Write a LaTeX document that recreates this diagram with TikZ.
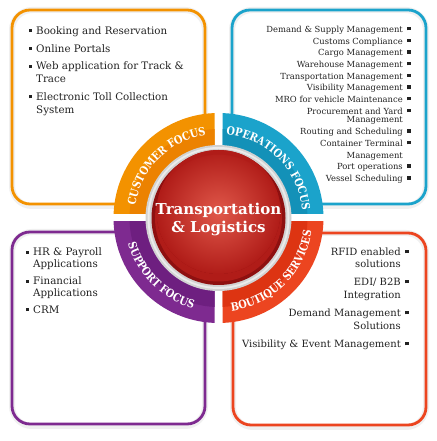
\documentclass[tikz,border=0pt]{standalone}
\usepackage{fontspec}
\setmainfont{DejaVu Serif}
\newfontfamily\bandfnt[FakeStretch=0.86]{DejaVu Serif}
\usetikzlibrary{decorations.text,calc}
\definecolor{cOr}{HTML}{F39200}
\definecolor{cOrD}{HTML}{EC8200}
\definecolor{cBl}{HTML}{1BA3CB}
\definecolor{cBlD}{HTML}{1391B8}
\definecolor{cPu}{HTML}{7E2A90}
\definecolor{cPuD}{HTML}{6E1F80}
\definecolor{cRe}{HTML}{EC4520}
\definecolor{cReD}{HTML}{DD3412}
\definecolor{cTxt}{HTML}{222222}
\definecolor{cRim}{HTML}{8E1010}
\definecolor{cBallIn}{HTML}{E0584A}
\definecolor{cBallOut}{HTML}{B01C18}
\definecolor{cRing}{HTML}{D2D2D2}
\newcommand{\bul}{\rule[2.2pt]{3.2pt}{3.2pt}}
\begin{document}
\begin{tikzpicture}[x=1pt,y=1pt,
  boxframe/.style={line width=2.8pt, rounded corners=18pt},
  shadowframe/.style={line width=6pt, rounded corners=20pt, draw=black!6},
  itemL/.style={anchor=base west, inner sep=0pt, text=cTxt, font=\fontsize{10.3}{12}\selectfont},
  itemR/.style={anchor=base east, inner sep=0pt, text=cTxt, font=\fontsize{10}{12}\selectfont},
  itemS/.style={anchor=base east, inner sep=0pt, text=cTxt, font=\fontsize{8.4}{10}\selectfont},
  bandtext/.style={decorate, decoration={text along path, text align=center, text color=white,
     text={|\bandfnt\bfseries\fontsize{11.3}{12}\selectfont|#1}}},
  ctext/.style={inner sep=0pt, text=white, font=\fontsize{15}{17}\selectfont\bfseries}
]
\useasboundingbox (0,0) rectangle (436,441);
\fill[white] (0,0) rectangle (436,441);
\coordinate (C) at (218.5,223);
% soft shadows
\draw[shadowframe] (12,235) rectangle (205,431);
\draw[shadowframe] (232,235) rectangle (426,431);
\draw[shadowframe] (12,15) rectangle (205,209);
\draw[shadowframe] (233,14) rectangle (426,208);
% boxes
\draw[boxframe, draw=cOr] (12,237) rectangle (205,431);
\draw[boxframe, draw=cBl] (232,237) rectangle (426,431);
\draw[boxframe, draw=cPu] (12,17) rectangle (205,209);
\draw[boxframe, draw=cRe] (233,16) rectangle (426,208);
% bands
\begin{scope}
\clip (214.5,227) rectangle (100,340);
\fill[cOr] (C) circle (105);
\fill[cOrD] (C) circle (89);
\end{scope}
\begin{scope}
\clip (222.5,227) rectangle (340,340);
\fill[cBl] (C) circle (105);
\fill[cBlD] (C) circle (89);
\end{scope}
\begin{scope}
\clip (214.5,219) rectangle (100,100);
\fill[cPu] (C) circle (105);
\fill[cPuD] (C) circle (89);
\end{scope}
\begin{scope}
\clip (222.5,219) rectangle (340,100);
\fill[cRe] (C) circle (105);
\fill[cReD] (C) circle (89);
\end{scope}
% gray ring and ball
\fill[cRing] (C) circle (73);
\fill[black!8] (C) circle (71);
\fill[cRing] (C) circle (69);
\fill[cRim] (C) circle (67);
\shade[inner color=cBallIn, outer color=cBallOut] ($(C)+(0,6)$) circle (62);
\fill[cBallOut, even odd rule] (C) circle (63.5) ($(C)+(0,6)$) circle (62);
% band labels
\path[bandtext={CUSTOMER FOCUS}] ($(C)+(178:84)$) arc[start angle=178, end angle=92, radius=84];
\path[bandtext={OPERATIONS FOCUS}] ($(C)+(88:84)$) arc[start angle=88, end angle=2, radius=84];
\path[bandtext={SUPPORT FOCUS}] ($(C)+(182:94)$) arc[start angle=182, end angle=268, radius=94];
\path[bandtext={BOUTIQUE SERVICES}] ($(C)+(272:94)$) arc[start angle=272, end angle=358, radius=94];
% centre text
\node[ctext] (t1) at (218.5,231) {Transportation};
\node[ctext] (t2) at (218.5,213) {\& Logistics};
% customer focus items
\node[itemL] (o1) at (36,406.7) {\llap{\bul\hspace{4.5pt}}Booking and Reservation};
\node[itemL] (o2) at (36,388.7) {\llap{\bul\hspace{4.5pt}}Online Portals};
\node[itemL] (o3) at (36,371) {\llap{\bul\hspace{4.5pt}}Web application for Track \&};
\node[itemL] (o3b) at (36,358.3) {Trace};
\node[itemL] (o4) at (36,340.3) {\llap{\bul\hspace{4.5pt}}Electronic Toll Collection};
\node[itemL] (o4b) at (36,327.7) {System};
% operations focus items
\node[itemS] (b1) at (403,408.5) {Demand \& Supply Management\rlap{\hspace{4.5pt}\bul}};
\node[itemS] (b2) at (403,396.8) {Customs Compliance\rlap{\hspace{4.5pt}\bul}};
\node[itemS] (b3) at (403,385.2) {Cargo Management\rlap{\hspace{4.5pt}\bul}};
\node[itemS] (b4) at (403,373.5) {Warehouse Management\rlap{\hspace{4.5pt}\bul}};
\node[itemS] (b5) at (403,361.8) {Transportation Management\rlap{\hspace{4.5pt}\bul}};
\node[itemS] (b6) at (403,350.2) {Visibility Management\rlap{\hspace{4.5pt}\bul}};
\node[itemS] (b7) at (403,338.5) {MRO for vehicle Maintenance\rlap{\hspace{4.5pt}\bul}};
\node[itemS] (b8) at (403,326.7) {Procurement and Yard\rlap{\hspace{4.5pt}\bul}};
\node[itemS] (b8b) at (403,318.7) {Management};
\node[itemS] (b9) at (403,306.2) {Routing and Scheduling\rlap{\hspace{4.5pt}\bul}};
\node[itemS] (b10) at (403,294.5) {Container Terminal\rlap{\hspace{4.5pt}\bul}};
\node[itemS] (b10b) at (403,282.8) {Management};
\node[itemS] (b11) at (403,271.2) {Port operations\rlap{\hspace{4.5pt}\bul}};
\node[itemS] (b12) at (403,259.2) {Vessel Scheduling\rlap{\hspace{4.5pt}\bul}};
% support focus items
\node[itemL] (p1) at (33,185) {\llap{\bul\hspace{4.5pt}}HR \& Payroll};
\node[itemL] (p1b) at (33,173.3) {Applications};
\node[itemL] (p2) at (33,156) {\llap{\bul\hspace{4.5pt}}Financial};
\node[itemL] (p2b) at (33,144.3) {Applications};
\node[itemL] (p3) at (33,127.7) {\llap{\bul\hspace{4.5pt}}CRM};
% boutique services items
\node[itemR] (r1) at (401,185.3) {RFID enabled\rlap{\hspace{4.5pt}\bul}};
\node[itemR] (r1b) at (401,173.7) {solutions};
\node[itemR] (r2) at (401,155.3) {EDI/ B2B\rlap{\hspace{4.5pt}\bul}};
\node[itemR] (r2b) at (401,142.7) {Integration};
\node[itemR] (r3) at (401,124.3) {Demand Management\rlap{\hspace{4.5pt}\bul}};
\node[itemR] (r3b) at (401,111.7) {Solutions};
\node[itemR] (r4) at (401,93.3) {Visibility \& Event Management\rlap{\hspace{4.5pt}\bul}};
\end{tikzpicture}
\end{document}
